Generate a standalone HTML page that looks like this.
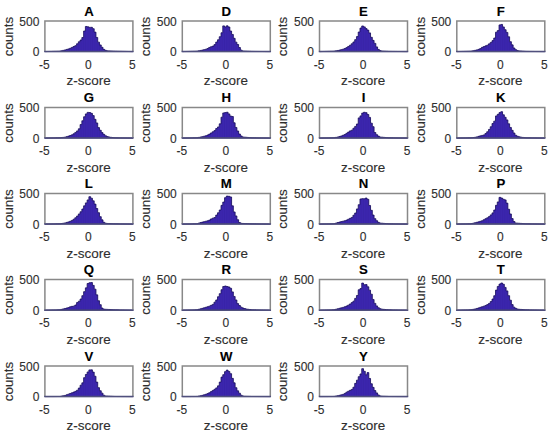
<!DOCTYPE html><html><head><meta charset="utf-8"><style>html,body{margin:0;padding:0;background:#fff;width:550px;height:438px;overflow:hidden}svg{display:block}text{font-family:"Liberation Sans",sans-serif;fill:#2e2e2e;stroke:#2e2e2e;stroke-width:0.12px}</style></head><body>
<svg width="550" height="438" viewBox="0 0 550 438">
<path d="M44.90 51.60 L44.90 51.58 L46.66 51.58 L46.66 51.53 L48.42 51.53 L48.42 51.48 L50.18 51.48 L50.18 51.44 L51.94 51.44 L51.94 51.39 L53.70 51.39 L53.70 51.34 L55.46 51.34 L55.46 51.30 L57.22 51.30 L57.22 51.25 L58.98 51.25 L58.98 51.20 L60.74 51.20 L60.74 50.81 L62.50 50.81 L62.50 50.39 L64.26 50.39 L64.26 49.96 L66.02 49.96 L66.02 49.43 L67.78 49.43 L67.78 48.90 L69.54 48.90 L69.54 48.29 L71.30 48.29 L71.30 47.41 L73.06 47.41 L73.06 46.53 L74.82 46.53 L74.82 45.65 L76.58 45.65 L76.58 43.75 L78.34 43.75 L78.34 41.78 L80.10 41.78 L80.10 40.02 L81.86 40.02 L81.86 37.52 L83.62 37.52 L83.62 31.00 L85.38 31.00 L85.38 26.48 L87.14 26.48 L87.14 26.86 L88.90 26.86 L88.90 27.38 L90.66 27.38 L90.66 27.31 L92.42 27.31 L92.42 28.70 L94.18 28.70 L94.18 32.12 L95.94 32.12 L95.94 37.46 L97.70 37.46 L97.70 42.13 L99.46 42.13 L99.46 44.95 L101.22 44.95 L101.22 47.30 L102.98 47.30 L102.98 49.36 L104.74 49.36 L104.74 50.36 L106.50 50.36 L106.50 50.82 L108.26 50.82 L108.26 50.91 L110.02 50.91 L110.02 50.99 L111.78 50.99 L111.78 51.08 L113.54 51.08 L113.54 51.17 L115.30 51.17 L115.30 51.23 L117.06 51.23 L117.06 51.27 L118.82 51.27 L118.82 51.31 L120.58 51.31 L120.58 51.34 L122.34 51.34 L122.34 51.38 L124.10 51.38 L124.10 51.42 L125.86 51.42 L125.86 51.46 L127.62 51.46 L127.62 51.50 L129.38 51.50 L129.38 51.54 L131.14 51.54 L131.14 51.58 L132.90 51.58 L132.90 51.60 Z" fill="#3d27b0" stroke="#160c5c" stroke-width="0.8"/>
<path d="M48.42 51.60V51.53M50.18 51.60V51.48M51.94 51.60V51.44M53.70 51.60V51.39M55.46 51.60V51.34M57.22 51.60V51.30M58.98 51.60V51.25M60.74 51.60V51.20M62.50 51.60V50.81M64.26 51.60V50.39M66.02 51.60V49.96M67.78 51.60V49.43M69.54 51.60V48.90M71.30 51.60V48.29M73.06 51.60V47.41M74.82 51.60V46.53M76.58 51.60V45.65M78.34 51.60V43.75M80.10 51.60V41.78M81.86 51.60V40.02M83.62 51.60V37.52M85.38 51.60V31.00M87.14 51.60V26.48M88.90 51.60V26.86M90.66 51.60V27.38M92.42 51.60V27.31M94.18 51.60V28.70M95.94 51.60V32.12M97.70 51.60V37.46M99.46 51.60V42.13M101.22 51.60V44.95M102.98 51.60V47.30M104.74 51.60V49.36M106.50 51.60V50.36M108.26 51.60V50.82M110.02 51.60V50.91M111.78 51.60V50.99M113.54 51.60V51.08M115.30 51.60V51.17M117.06 51.60V51.23M118.82 51.60V51.27M120.58 51.60V51.31M122.34 51.60V51.34M124.10 51.60V51.38M125.86 51.60V51.42M127.62 51.60V51.46M129.38 51.60V51.50M131.14 51.60V51.54" fill="none" stroke="#160c5c" stroke-width="0.3" stroke-opacity="0.3"/>
<path d="M44.90 51.60V21.00H132.90V51.60" fill="none" stroke="#888888" stroke-width="1.5" stroke-linejoin="miter"/>
<path d="M44.15 51.60H133.65" fill="none" stroke="#50507d" stroke-width="1.5"/>
<text x="39.40" y="25.80" font-size="12" text-anchor="end">500</text>
<text x="39.40" y="56.40" font-size="12" text-anchor="end">0</text>
<text x="44.40" y="68.80" font-size="12" text-anchor="middle">-5</text>
<text x="88.40" y="68.80" font-size="12" text-anchor="middle">0</text>
<text x="132.40" y="68.80" font-size="12" text-anchor="middle">5</text>
<text x="88.60" y="85.10" font-size="13.5" text-anchor="middle">z-score</text>
<text x="88.90" y="15.80" font-size="13.2" font-weight="bold" text-anchor="middle" style="fill:#000;stroke:#000">A</text>
<text transform="translate(12.70 36.50) rotate(-90)" font-size="13.4" text-anchor="middle">counts</text>
<path d="M182.30 51.60 L182.30 51.58 L184.06 51.58 L184.06 51.53 L185.82 51.53 L185.82 51.48 L187.58 51.48 L187.58 51.43 L189.34 51.43 L189.34 51.38 L191.10 51.38 L191.10 51.34 L192.86 51.34 L192.86 51.29 L194.62 51.29 L194.62 51.24 L196.38 51.24 L196.38 51.15 L198.14 51.15 L198.14 50.80 L199.90 50.80 L199.90 50.44 L201.66 50.44 L201.66 50.07 L203.42 50.07 L203.42 49.65 L205.18 49.65 L205.18 49.23 L206.94 49.23 L206.94 48.51 L208.70 48.51 L208.70 47.45 L210.46 47.45 L210.46 46.75 L212.22 46.75 L212.22 46.11 L213.98 46.11 L213.98 44.62 L215.74 44.62 L215.74 42.07 L217.50 42.07 L217.50 39.78 L219.26 39.78 L219.26 36.72 L221.02 36.72 L221.02 32.75 L222.78 32.75 L222.78 25.89 L224.54 25.89 L224.54 26.91 L226.30 26.91 L226.30 25.85 L228.06 25.85 L228.06 26.99 L229.82 26.99 L229.82 31.00 L231.58 31.00 L231.58 34.44 L233.34 34.44 L233.34 38.30 L235.10 38.30 L235.10 42.14 L236.86 42.14 L236.86 44.49 L238.62 44.49 L238.62 47.50 L240.38 47.50 L240.38 50.13 L242.14 50.13 L242.14 51.00 L243.90 51.00 L243.90 51.08 L245.66 51.08 L245.66 51.16 L247.42 51.16 L247.42 51.24 L249.18 51.24 L249.18 51.31 L250.94 51.31 L250.94 51.39 L252.70 51.39 L252.70 51.42 L254.46 51.42 L254.46 51.44 L256.22 51.44 L256.22 51.46 L257.98 51.46 L257.98 51.47 L259.74 51.47 L259.74 51.49 L261.50 51.49 L261.50 51.51 L263.26 51.51 L263.26 51.53 L265.02 51.53 L265.02 51.55 L266.78 51.55 L266.78 51.57 L268.54 51.57 L268.54 51.59 L270.30 51.59 L270.30 51.60 Z" fill="#3d27b0" stroke="#160c5c" stroke-width="0.8"/>
<path d="M185.82 51.60V51.53M187.58 51.60V51.48M189.34 51.60V51.43M191.10 51.60V51.38M192.86 51.60V51.34M194.62 51.60V51.29M196.38 51.60V51.24M198.14 51.60V51.15M199.90 51.60V50.80M201.66 51.60V50.44M203.42 51.60V50.07M205.18 51.60V49.65M206.94 51.60V49.23M208.70 51.60V48.51M210.46 51.60V47.45M212.22 51.60V46.75M213.98 51.60V46.11M215.74 51.60V44.62M217.50 51.60V42.07M219.26 51.60V39.78M221.02 51.60V36.72M222.78 51.60V32.75M224.54 51.60V25.89M226.30 51.60V26.91M228.06 51.60V25.85M229.82 51.60V26.99M231.58 51.60V31.00M233.34 51.60V34.44M235.10 51.60V38.30M236.86 51.60V42.14M238.62 51.60V44.49M240.38 51.60V47.50M242.14 51.60V50.13M243.90 51.60V51.00M245.66 51.60V51.08M247.42 51.60V51.16M249.18 51.60V51.24M250.94 51.60V51.31M252.70 51.60V51.39M254.46 51.60V51.42M256.22 51.60V51.44M257.98 51.60V51.46M259.74 51.60V51.47M261.50 51.60V51.49M263.26 51.60V51.51M265.02 51.60V51.53" fill="none" stroke="#160c5c" stroke-width="0.3" stroke-opacity="0.3"/>
<path d="M182.30 51.60V21.00H270.30V51.60" fill="none" stroke="#888888" stroke-width="1.5" stroke-linejoin="miter"/>
<path d="M181.55 51.60H271.05" fill="none" stroke="#50507d" stroke-width="1.5"/>
<text x="176.80" y="25.80" font-size="12" text-anchor="end">500</text>
<text x="176.80" y="56.40" font-size="12" text-anchor="end">0</text>
<text x="181.80" y="68.80" font-size="12" text-anchor="middle">-5</text>
<text x="225.80" y="68.80" font-size="12" text-anchor="middle">0</text>
<text x="269.80" y="68.80" font-size="12" text-anchor="middle">5</text>
<text x="226.00" y="85.10" font-size="13.5" text-anchor="middle">z-score</text>
<text x="226.30" y="15.80" font-size="13.2" font-weight="bold" text-anchor="middle" style="fill:#000;stroke:#000">D</text>
<text transform="translate(150.10 36.50) rotate(-90)" font-size="13.4" text-anchor="middle">counts</text>
<path d="M319.50 51.60 L319.50 51.58 L321.26 51.58 L321.26 51.53 L323.02 51.53 L323.02 51.48 L324.78 51.48 L324.78 51.43 L326.54 51.43 L326.54 51.38 L328.30 51.38 L328.30 51.33 L330.06 51.33 L330.06 51.28 L331.82 51.28 L331.82 51.24 L333.58 51.24 L333.58 51.12 L335.34 51.12 L335.34 50.80 L337.10 50.80 L337.10 50.48 L338.86 50.48 L338.86 50.11 L340.62 50.11 L340.62 49.65 L342.38 49.65 L342.38 49.19 L344.14 49.19 L344.14 48.49 L345.90 48.49 L345.90 47.61 L347.66 47.61 L347.66 46.47 L349.42 46.47 L349.42 45.25 L351.18 45.25 L351.18 43.78 L352.94 43.78 L352.94 41.98 L354.70 41.98 L354.70 39.63 L356.46 39.63 L356.46 36.59 L358.22 36.59 L358.22 32.00 L359.98 32.00 L359.98 28.08 L361.74 28.08 L361.74 25.97 L363.50 25.97 L363.50 26.88 L365.26 26.88 L365.26 28.59 L367.02 28.59 L367.02 30.10 L368.78 30.10 L368.78 32.90 L370.54 32.90 L370.54 37.30 L372.30 37.30 L372.30 40.36 L374.06 40.36 L374.06 43.38 L375.82 43.38 L375.82 46.90 L377.58 46.90 L377.58 49.46 L379.34 49.46 L379.34 50.61 L381.10 50.61 L381.10 51.05 L382.86 51.05 L382.86 51.14 L384.62 51.14 L384.62 51.23 L386.38 51.23 L386.38 51.31 L388.14 51.31 L388.14 51.40 L389.90 51.40 L389.90 51.42 L391.66 51.42 L391.66 51.44 L393.42 51.44 L393.42 51.46 L395.18 51.46 L395.18 51.48 L396.94 51.48 L396.94 51.50 L398.70 51.50 L398.70 51.51 L400.46 51.51 L400.46 51.53 L402.22 51.53 L402.22 51.55 L403.98 51.55 L403.98 51.57 L405.74 51.57 L405.74 51.59 L407.50 51.59 L407.50 51.60 Z" fill="#3d27b0" stroke="#160c5c" stroke-width="0.8"/>
<path d="M323.02 51.60V51.53M324.78 51.60V51.48M326.54 51.60V51.43M328.30 51.60V51.38M330.06 51.60V51.33M331.82 51.60V51.28M333.58 51.60V51.24M335.34 51.60V51.12M337.10 51.60V50.80M338.86 51.60V50.48M340.62 51.60V50.11M342.38 51.60V49.65M344.14 51.60V49.19M345.90 51.60V48.49M347.66 51.60V47.61M349.42 51.60V46.47M351.18 51.60V45.25M352.94 51.60V43.78M354.70 51.60V41.98M356.46 51.60V39.63M358.22 51.60V36.59M359.98 51.60V32.00M361.74 51.60V28.08M363.50 51.60V25.97M365.26 51.60V26.88M367.02 51.60V28.59M368.78 51.60V30.10M370.54 51.60V32.90M372.30 51.60V37.30M374.06 51.60V40.36M375.82 51.60V43.38M377.58 51.60V46.90M379.34 51.60V49.46M381.10 51.60V50.61M382.86 51.60V51.05M384.62 51.60V51.14M386.38 51.60V51.23M388.14 51.60V51.31M389.90 51.60V51.40M391.66 51.60V51.42M393.42 51.60V51.44M395.18 51.60V51.46M396.94 51.60V51.48M398.70 51.60V51.50M400.46 51.60V51.51M402.22 51.60V51.53" fill="none" stroke="#160c5c" stroke-width="0.3" stroke-opacity="0.3"/>
<path d="M319.50 51.60V21.00H407.50V51.60" fill="none" stroke="#888888" stroke-width="1.5" stroke-linejoin="miter"/>
<path d="M318.75 51.60H408.25" fill="none" stroke="#50507d" stroke-width="1.5"/>
<text x="314.00" y="25.80" font-size="12" text-anchor="end">500</text>
<text x="314.00" y="56.40" font-size="12" text-anchor="end">0</text>
<text x="319.00" y="68.80" font-size="12" text-anchor="middle">-5</text>
<text x="363.00" y="68.80" font-size="12" text-anchor="middle">0</text>
<text x="407.00" y="68.80" font-size="12" text-anchor="middle">5</text>
<text x="363.20" y="85.10" font-size="13.5" text-anchor="middle">z-score</text>
<text x="363.50" y="15.80" font-size="13.2" font-weight="bold" text-anchor="middle" style="fill:#000;stroke:#000">E</text>
<text transform="translate(287.30 36.50) rotate(-90)" font-size="13.4" text-anchor="middle">counts</text>
<path d="M456.80 51.60 L456.80 51.58 L458.56 51.58 L458.56 51.53 L460.32 51.53 L460.32 51.48 L462.08 51.48 L462.08 51.43 L463.84 51.43 L463.84 51.38 L465.60 51.38 L465.60 51.33 L467.36 51.33 L467.36 51.28 L469.12 51.28 L469.12 51.23 L470.88 51.23 L470.88 51.05 L472.64 51.05 L472.64 50.70 L474.40 50.70 L474.40 50.34 L476.16 50.34 L476.16 49.89 L477.92 49.89 L477.92 49.36 L479.68 49.36 L479.68 48.58 L481.44 48.58 L481.44 47.36 L483.20 47.36 L483.20 46.60 L484.96 46.60 L484.96 45.86 L486.72 45.86 L486.72 45.16 L488.48 45.16 L488.48 43.87 L490.24 43.87 L490.24 42.38 L492.00 42.38 L492.00 40.62 L493.76 40.62 L493.76 38.04 L495.52 38.04 L495.52 32.20 L497.28 32.20 L497.28 30.61 L499.04 30.61 L499.04 24.92 L500.80 24.92 L500.80 24.45 L502.56 24.45 L502.56 26.94 L504.32 26.94 L504.32 29.70 L506.08 29.70 L506.08 32.42 L507.84 32.42 L507.84 36.80 L509.60 36.80 L509.60 41.70 L511.36 41.70 L511.36 44.86 L513.12 44.86 L513.12 48.00 L514.88 48.00 L514.88 49.64 L516.64 49.64 L516.64 50.55 L518.40 50.55 L518.40 50.90 L520.16 50.90 L520.16 51.03 L521.92 51.03 L521.92 51.16 L523.68 51.16 L523.68 51.29 L525.44 51.29 L525.44 51.40 L527.20 51.40 L527.20 51.42 L528.96 51.42 L528.96 51.44 L530.72 51.44 L530.72 51.46 L532.48 51.46 L532.48 51.48 L534.24 51.48 L534.24 51.50 L536.00 51.50 L536.00 51.52 L537.76 51.52 L537.76 51.53 L539.52 51.53 L539.52 51.55 L541.28 51.55 L541.28 51.57 L543.04 51.57 L543.04 51.59 L544.80 51.59 L544.80 51.60 Z" fill="#3d27b0" stroke="#160c5c" stroke-width="0.8"/>
<path d="M460.32 51.60V51.53M462.08 51.60V51.48M463.84 51.60V51.43M465.60 51.60V51.38M467.36 51.60V51.33M469.12 51.60V51.28M470.88 51.60V51.23M472.64 51.60V51.05M474.40 51.60V50.70M476.16 51.60V50.34M477.92 51.60V49.89M479.68 51.60V49.36M481.44 51.60V48.58M483.20 51.60V47.36M484.96 51.60V46.60M486.72 51.60V45.86M488.48 51.60V45.16M490.24 51.60V43.87M492.00 51.60V42.38M493.76 51.60V40.62M495.52 51.60V38.04M497.28 51.60V32.20M499.04 51.60V30.61M500.80 51.60V24.92M502.56 51.60V24.45M504.32 51.60V26.94M506.08 51.60V29.70M507.84 51.60V32.42M509.60 51.60V36.80M511.36 51.60V41.70M513.12 51.60V44.86M514.88 51.60V48.00M516.64 51.60V49.64M518.40 51.60V50.55M520.16 51.60V50.90M521.92 51.60V51.03M523.68 51.60V51.16M525.44 51.60V51.29M527.20 51.60V51.40M528.96 51.60V51.42M530.72 51.60V51.44M532.48 51.60V51.46M534.24 51.60V51.48M536.00 51.60V51.50M537.76 51.60V51.52M539.52 51.60V51.53" fill="none" stroke="#160c5c" stroke-width="0.3" stroke-opacity="0.3"/>
<path d="M456.80 51.60V21.00H544.80V51.60" fill="none" stroke="#888888" stroke-width="1.5" stroke-linejoin="miter"/>
<path d="M456.05 51.60H545.55" fill="none" stroke="#50507d" stroke-width="1.5"/>
<text x="451.30" y="25.80" font-size="12" text-anchor="end">500</text>
<text x="451.30" y="56.40" font-size="12" text-anchor="end">0</text>
<text x="456.30" y="68.80" font-size="12" text-anchor="middle">-5</text>
<text x="500.30" y="68.80" font-size="12" text-anchor="middle">0</text>
<text x="544.30" y="68.80" font-size="12" text-anchor="middle">5</text>
<text x="500.50" y="85.10" font-size="13.5" text-anchor="middle">z-score</text>
<text x="500.80" y="15.80" font-size="13.2" font-weight="bold" text-anchor="middle" style="fill:#000;stroke:#000">F</text>
<text transform="translate(424.60 36.50) rotate(-90)" font-size="13.4" text-anchor="middle">counts</text>
<path d="M44.90 138.10 L44.90 138.08 L46.66 138.08 L46.66 138.05 L48.42 138.05 L48.42 138.01 L50.18 138.01 L50.18 137.98 L51.94 137.98 L51.94 137.94 L53.70 137.94 L53.70 137.91 L55.46 137.91 L55.46 137.87 L57.22 137.87 L57.22 137.84 L58.98 137.84 L58.98 137.80 L60.74 137.80 L60.74 137.61 L62.50 137.61 L62.50 137.39 L64.26 137.39 L64.26 137.16 L66.02 137.16 L66.02 136.63 L67.78 136.63 L67.78 136.10 L69.54 136.10 L69.54 135.53 L71.30 135.53 L71.30 134.83 L73.06 134.83 L73.06 133.78 L74.82 133.78 L74.82 132.43 L76.58 132.43 L76.58 130.92 L78.34 130.92 L78.34 128.80 L80.10 128.80 L80.10 124.56 L81.86 124.56 L81.86 120.77 L83.62 120.77 L83.62 116.75 L85.38 116.75 L85.38 113.93 L87.14 113.93 L87.14 112.40 L88.90 112.40 L88.90 112.51 L90.66 112.51 L90.66 113.36 L92.42 113.36 L92.42 115.60 L94.18 115.60 L94.18 119.34 L95.94 119.34 L95.94 122.96 L97.70 122.96 L97.70 127.62 L99.46 127.62 L99.46 130.26 L101.22 130.26 L101.22 132.60 L102.98 132.60 L102.98 134.36 L104.74 134.36 L104.74 135.81 L106.50 135.81 L106.50 136.59 L108.26 136.59 L108.26 137.00 L110.02 137.00 L110.02 137.31 L111.78 137.31 L111.78 137.52 L113.54 137.52 L113.54 137.73 L115.30 137.73 L115.30 137.82 L117.06 137.82 L117.06 137.85 L118.82 137.85 L118.82 137.88 L120.58 137.88 L120.58 137.91 L122.34 137.91 L122.34 137.94 L124.10 137.94 L124.10 137.97 L125.86 137.97 L125.86 138.00 L127.62 138.00 L127.62 138.03 L129.38 138.03 L129.38 138.06 L131.14 138.06 L131.14 138.09 L132.90 138.09 L132.90 138.10 Z" fill="#3d27b0" stroke="#160c5c" stroke-width="0.8"/>
<path d="M48.42 138.10V138.05M50.18 138.10V138.01M51.94 138.10V137.98M53.70 138.10V137.94M55.46 138.10V137.91M57.22 138.10V137.87M58.98 138.10V137.84M60.74 138.10V137.80M62.50 138.10V137.61M64.26 138.10V137.39M66.02 138.10V137.16M67.78 138.10V136.63M69.54 138.10V136.10M71.30 138.10V135.53M73.06 138.10V134.83M74.82 138.10V133.78M76.58 138.10V132.43M78.34 138.10V130.92M80.10 138.10V128.80M81.86 138.10V124.56M83.62 138.10V120.77M85.38 138.10V116.75M87.14 138.10V113.93M88.90 138.10V112.40M90.66 138.10V112.51M92.42 138.10V113.36M94.18 138.10V115.60M95.94 138.10V119.34M97.70 138.10V122.96M99.46 138.10V127.62M101.22 138.10V130.26M102.98 138.10V132.60M104.74 138.10V134.36M106.50 138.10V135.81M108.26 138.10V136.59M110.02 138.10V137.00M111.78 138.10V137.31M113.54 138.10V137.52M115.30 138.10V137.73M117.06 138.10V137.82M118.82 138.10V137.85M120.58 138.10V137.88M122.34 138.10V137.91M124.10 138.10V137.94M125.86 138.10V137.97M127.62 138.10V138.00M129.38 138.10V138.03" fill="none" stroke="#160c5c" stroke-width="0.3" stroke-opacity="0.3"/>
<path d="M44.90 138.10V107.50H132.90V138.10" fill="none" stroke="#888888" stroke-width="1.5" stroke-linejoin="miter"/>
<path d="M44.15 138.10H133.65" fill="none" stroke="#50507d" stroke-width="1.5"/>
<text x="39.40" y="112.30" font-size="12" text-anchor="end">500</text>
<text x="39.40" y="142.90" font-size="12" text-anchor="end">0</text>
<text x="44.40" y="155.30" font-size="12" text-anchor="middle">-5</text>
<text x="88.40" y="155.30" font-size="12" text-anchor="middle">0</text>
<text x="132.40" y="155.30" font-size="12" text-anchor="middle">5</text>
<text x="88.60" y="171.60" font-size="13.5" text-anchor="middle">z-score</text>
<text x="88.90" y="102.30" font-size="13.2" font-weight="bold" text-anchor="middle" style="fill:#000;stroke:#000">G</text>
<text transform="translate(12.70 123.00) rotate(-90)" font-size="13.4" text-anchor="middle">counts</text>
<path d="M182.30 138.10 L182.30 138.08 L184.06 138.08 L184.06 138.05 L185.82 138.05 L185.82 138.01 L187.58 138.01 L187.58 137.97 L189.34 137.97 L189.34 137.94 L191.10 137.94 L191.10 137.90 L192.86 137.90 L192.86 137.87 L194.62 137.87 L194.62 137.83 L196.38 137.83 L196.38 137.75 L198.14 137.75 L198.14 137.40 L199.90 137.40 L199.90 137.04 L201.66 137.04 L201.66 136.67 L203.42 136.67 L203.42 136.23 L205.18 136.23 L205.18 135.77 L206.94 135.77 L206.94 135.01 L208.70 135.01 L208.70 134.11 L210.46 134.11 L210.46 132.94 L212.22 132.94 L212.22 131.77 L213.98 131.77 L213.98 130.59 L215.74 130.59 L215.74 128.47 L217.50 128.47 L217.50 126.97 L219.26 126.97 L219.26 123.84 L221.02 123.84 L221.02 117.20 L222.78 117.20 L222.78 112.95 L224.54 112.95 L224.54 112.58 L226.30 112.58 L226.30 112.26 L228.06 112.26 L228.06 113.92 L229.82 113.92 L229.82 116.05 L231.58 116.05 L231.58 116.49 L233.34 116.49 L233.34 122.77 L235.10 122.77 L235.10 127.46 L236.86 127.46 L236.86 130.98 L238.62 130.98 L238.62 134.00 L240.38 134.00 L240.38 135.96 L242.14 135.96 L242.14 137.00 L243.90 137.00 L243.90 137.16 L245.66 137.16 L245.66 137.31 L247.42 137.31 L247.42 137.47 L249.18 137.47 L249.18 137.63 L250.94 137.63 L250.94 137.78 L252.70 137.78 L252.70 137.83 L254.46 137.83 L254.46 137.85 L256.22 137.85 L256.22 137.88 L257.98 137.88 L257.98 137.91 L259.74 137.91 L259.74 137.94 L261.50 137.94 L261.50 137.97 L263.26 137.97 L263.26 138.00 L265.02 138.00 L265.02 138.03 L266.78 138.03 L266.78 138.06 L268.54 138.06 L268.54 138.09 L270.30 138.09 L270.30 138.10 Z" fill="#3d27b0" stroke="#160c5c" stroke-width="0.8"/>
<path d="M185.82 138.10V138.05M187.58 138.10V138.01M189.34 138.10V137.97M191.10 138.10V137.94M192.86 138.10V137.90M194.62 138.10V137.87M196.38 138.10V137.83M198.14 138.10V137.75M199.90 138.10V137.40M201.66 138.10V137.04M203.42 138.10V136.67M205.18 138.10V136.23M206.94 138.10V135.77M208.70 138.10V135.01M210.46 138.10V134.11M212.22 138.10V132.94M213.98 138.10V131.77M215.74 138.10V130.59M217.50 138.10V128.47M219.26 138.10V126.97M221.02 138.10V123.84M222.78 138.10V117.20M224.54 138.10V112.95M226.30 138.10V112.58M228.06 138.10V112.26M229.82 138.10V113.92M231.58 138.10V116.05M233.34 138.10V116.49M235.10 138.10V122.77M236.86 138.10V127.46M238.62 138.10V130.98M240.38 138.10V134.00M242.14 138.10V135.96M243.90 138.10V137.00M245.66 138.10V137.16M247.42 138.10V137.31M249.18 138.10V137.47M250.94 138.10V137.63M252.70 138.10V137.78M254.46 138.10V137.83M256.22 138.10V137.85M257.98 138.10V137.88M259.74 138.10V137.91M261.50 138.10V137.94M263.26 138.10V137.97M265.02 138.10V138.00M266.78 138.10V138.03" fill="none" stroke="#160c5c" stroke-width="0.3" stroke-opacity="0.3"/>
<path d="M182.30 138.10V107.50H270.30V138.10" fill="none" stroke="#888888" stroke-width="1.5" stroke-linejoin="miter"/>
<path d="M181.55 138.10H271.05" fill="none" stroke="#50507d" stroke-width="1.5"/>
<text x="176.80" y="112.30" font-size="12" text-anchor="end">500</text>
<text x="176.80" y="142.90" font-size="12" text-anchor="end">0</text>
<text x="181.80" y="155.30" font-size="12" text-anchor="middle">-5</text>
<text x="225.80" y="155.30" font-size="12" text-anchor="middle">0</text>
<text x="269.80" y="155.30" font-size="12" text-anchor="middle">5</text>
<text x="226.00" y="171.60" font-size="13.5" text-anchor="middle">z-score</text>
<text x="226.30" y="102.30" font-size="13.2" font-weight="bold" text-anchor="middle" style="fill:#000;stroke:#000">H</text>
<text transform="translate(150.10 123.00) rotate(-90)" font-size="13.4" text-anchor="middle">counts</text>
<path d="M319.50 138.10 L319.50 138.08 L321.26 138.08 L321.26 138.05 L323.02 138.05 L323.02 138.01 L324.78 138.01 L324.78 137.97 L326.54 137.97 L326.54 137.94 L328.30 137.94 L328.30 137.90 L330.06 137.90 L330.06 137.86 L331.82 137.86 L331.82 137.83 L333.58 137.83 L333.58 137.71 L335.34 137.71 L335.34 137.36 L337.10 137.36 L337.10 137.00 L338.86 137.00 L338.86 136.48 L340.62 136.48 L340.62 135.95 L342.38 135.95 L342.38 135.25 L344.14 135.25 L344.14 134.49 L345.90 134.49 L345.90 133.31 L347.66 133.31 L347.66 132.09 L349.42 132.09 L349.42 130.88 L351.18 130.88 L351.18 130.18 L352.94 130.18 L352.94 128.24 L354.70 128.24 L354.70 126.42 L356.46 126.42 L356.46 123.99 L358.22 123.99 L358.22 117.90 L359.98 117.90 L359.98 115.90 L361.74 115.90 L361.74 113.07 L363.50 113.07 L363.50 112.29 L365.26 112.29 L365.26 112.66 L367.02 112.66 L367.02 114.50 L368.78 114.50 L368.78 117.40 L370.54 117.40 L370.54 123.18 L372.30 123.18 L372.30 126.68 L374.06 126.68 L374.06 132.52 L375.82 132.52 L375.82 134.67 L377.58 134.67 L377.58 136.08 L379.34 136.08 L379.34 137.02 L381.10 137.02 L381.10 137.18 L382.86 137.18 L382.86 137.33 L384.62 137.33 L384.62 137.49 L386.38 137.49 L386.38 137.65 L388.14 137.65 L388.14 137.80 L389.90 137.80 L389.90 137.83 L391.66 137.83 L391.66 137.86 L393.42 137.86 L393.42 137.89 L395.18 137.89 L395.18 137.91 L396.94 137.91 L396.94 137.94 L398.70 137.94 L398.70 137.97 L400.46 137.97 L400.46 138.00 L402.22 138.00 L402.22 138.03 L403.98 138.03 L403.98 138.06 L405.74 138.06 L405.74 138.09 L407.50 138.09 L407.50 138.10 Z" fill="#3d27b0" stroke="#160c5c" stroke-width="0.8"/>
<path d="M323.02 138.10V138.05M324.78 138.10V138.01M326.54 138.10V137.97M328.30 138.10V137.94M330.06 138.10V137.90M331.82 138.10V137.86M333.58 138.10V137.83M335.34 138.10V137.71M337.10 138.10V137.36M338.86 138.10V137.00M340.62 138.10V136.48M342.38 138.10V135.95M344.14 138.10V135.25M345.90 138.10V134.49M347.66 138.10V133.31M349.42 138.10V132.09M351.18 138.10V130.88M352.94 138.10V130.18M354.70 138.10V128.24M356.46 138.10V126.42M358.22 138.10V123.99M359.98 138.10V117.90M361.74 138.10V115.90M363.50 138.10V113.07M365.26 138.10V112.29M367.02 138.10V112.66M368.78 138.10V114.50M370.54 138.10V117.40M372.30 138.10V123.18M374.06 138.10V126.68M375.82 138.10V132.52M377.58 138.10V134.67M379.34 138.10V136.08M381.10 138.10V137.02M382.86 138.10V137.18M384.62 138.10V137.33M386.38 138.10V137.49M388.14 138.10V137.65M389.90 138.10V137.80M391.66 138.10V137.83M393.42 138.10V137.86M395.18 138.10V137.89M396.94 138.10V137.91M398.70 138.10V137.94M400.46 138.10V137.97M402.22 138.10V138.00M403.98 138.10V138.03" fill="none" stroke="#160c5c" stroke-width="0.3" stroke-opacity="0.3"/>
<path d="M319.50 138.10V107.50H407.50V138.10" fill="none" stroke="#888888" stroke-width="1.5" stroke-linejoin="miter"/>
<path d="M318.75 138.10H408.25" fill="none" stroke="#50507d" stroke-width="1.5"/>
<text x="314.00" y="112.30" font-size="12" text-anchor="end">500</text>
<text x="314.00" y="142.90" font-size="12" text-anchor="end">0</text>
<text x="319.00" y="155.30" font-size="12" text-anchor="middle">-5</text>
<text x="363.00" y="155.30" font-size="12" text-anchor="middle">0</text>
<text x="407.00" y="155.30" font-size="12" text-anchor="middle">5</text>
<text x="363.20" y="171.60" font-size="13.5" text-anchor="middle">z-score</text>
<text x="363.50" y="102.30" font-size="13.2" font-weight="bold" text-anchor="middle" style="fill:#000;stroke:#000">I</text>
<text transform="translate(287.30 123.00) rotate(-90)" font-size="13.4" text-anchor="middle">counts</text>
<path d="M456.80 138.10 L456.80 138.08 L458.56 138.08 L458.56 138.04 L460.32 138.04 L460.32 138.01 L462.08 138.01 L462.08 137.97 L463.84 137.97 L463.84 137.93 L465.60 137.93 L465.60 137.90 L467.36 137.90 L467.36 137.86 L469.12 137.86 L469.12 137.82 L470.88 137.82 L470.88 137.71 L472.64 137.71 L472.64 137.50 L474.40 137.50 L474.40 137.29 L476.16 137.29 L476.16 136.89 L477.92 136.89 L477.92 136.36 L479.68 136.36 L479.68 135.86 L481.44 135.86 L481.44 135.42 L483.20 135.42 L483.20 134.93 L484.96 134.93 L484.96 133.47 L486.72 133.47 L486.72 131.75 L488.48 131.75 L488.48 129.46 L490.24 129.46 L490.24 126.76 L492.00 126.76 L492.00 123.49 L493.76 123.49 L493.76 121.15 L495.52 121.15 L495.52 115.95 L497.28 115.95 L497.28 114.34 L499.04 114.34 L499.04 112.58 L500.80 112.58 L500.80 111.70 L502.56 111.70 L502.56 114.79 L504.32 114.79 L504.32 117.27 L506.08 117.27 L506.08 119.92 L507.84 119.92 L507.84 123.80 L509.60 123.80 L509.60 127.46 L511.36 127.46 L511.36 130.32 L513.12 130.32 L513.12 133.00 L514.88 133.00 L514.88 135.26 L516.64 135.26 L516.64 136.26 L518.40 136.26 L518.40 136.80 L520.16 136.80 L520.16 137.20 L521.92 137.20 L521.92 137.42 L523.68 137.42 L523.68 137.63 L525.44 137.63 L525.44 137.81 L527.20 137.81 L527.20 137.83 L528.96 137.83 L528.96 137.86 L530.72 137.86 L530.72 137.89 L532.48 137.89 L532.48 137.92 L534.24 137.92 L534.24 137.95 L536.00 137.95 L536.00 137.97 L537.76 137.97 L537.76 138.00 L539.52 138.00 L539.52 138.03 L541.28 138.03 L541.28 138.06 L543.04 138.06 L543.04 138.09 L544.80 138.09 L544.80 138.10 Z" fill="#3d27b0" stroke="#160c5c" stroke-width="0.8"/>
<path d="M460.32 138.10V138.04M462.08 138.10V138.01M463.84 138.10V137.97M465.60 138.10V137.93M467.36 138.10V137.90M469.12 138.10V137.86M470.88 138.10V137.82M472.64 138.10V137.71M474.40 138.10V137.50M476.16 138.10V137.29M477.92 138.10V136.89M479.68 138.10V136.36M481.44 138.10V135.86M483.20 138.10V135.42M484.96 138.10V134.93M486.72 138.10V133.47M488.48 138.10V131.75M490.24 138.10V129.46M492.00 138.10V126.76M493.76 138.10V123.49M495.52 138.10V121.15M497.28 138.10V115.95M499.04 138.10V114.34M500.80 138.10V112.58M502.56 138.10V111.70M504.32 138.10V114.79M506.08 138.10V117.27M507.84 138.10V119.92M509.60 138.10V123.80M511.36 138.10V127.46M513.12 138.10V130.32M514.88 138.10V133.00M516.64 138.10V135.26M518.40 138.10V136.26M520.16 138.10V136.80M521.92 138.10V137.20M523.68 138.10V137.42M525.44 138.10V137.63M527.20 138.10V137.81M528.96 138.10V137.83M530.72 138.10V137.86M532.48 138.10V137.89M534.24 138.10V137.92M536.00 138.10V137.95M537.76 138.10V137.97M539.52 138.10V138.00M541.28 138.10V138.03" fill="none" stroke="#160c5c" stroke-width="0.3" stroke-opacity="0.3"/>
<path d="M456.80 138.10V107.50H544.80V138.10" fill="none" stroke="#888888" stroke-width="1.5" stroke-linejoin="miter"/>
<path d="M456.05 138.10H545.55" fill="none" stroke="#50507d" stroke-width="1.5"/>
<text x="451.30" y="112.30" font-size="12" text-anchor="end">500</text>
<text x="451.30" y="142.90" font-size="12" text-anchor="end">0</text>
<text x="456.30" y="155.30" font-size="12" text-anchor="middle">-5</text>
<text x="500.30" y="155.30" font-size="12" text-anchor="middle">0</text>
<text x="544.30" y="155.30" font-size="12" text-anchor="middle">5</text>
<text x="500.50" y="171.60" font-size="13.5" text-anchor="middle">z-score</text>
<text x="500.80" y="102.30" font-size="13.2" font-weight="bold" text-anchor="middle" style="fill:#000;stroke:#000">K</text>
<text transform="translate(424.60 123.00) rotate(-90)" font-size="13.4" text-anchor="middle">counts</text>
<path d="M44.90 224.10 L44.90 224.08 L46.66 224.08 L46.66 224.05 L48.42 224.05 L48.42 224.01 L50.18 224.01 L50.18 223.98 L51.94 223.98 L51.94 223.94 L53.70 223.94 L53.70 223.91 L55.46 223.91 L55.46 223.87 L57.22 223.87 L57.22 223.84 L58.98 223.84 L58.98 223.80 L60.74 223.80 L60.74 223.54 L62.50 223.54 L62.50 223.26 L64.26 223.26 L64.26 222.96 L66.02 222.96 L66.02 222.43 L67.78 222.43 L67.78 221.90 L69.54 221.90 L69.54 221.29 L71.30 221.29 L71.30 220.41 L73.06 220.41 L73.06 219.22 L74.82 219.22 L74.82 217.75 L76.58 217.75 L76.58 216.04 L78.34 216.04 L78.34 213.97 L80.10 213.97 L80.10 211.78 L81.86 211.78 L81.86 209.02 L83.62 209.02 L83.62 205.83 L85.38 205.83 L85.38 202.90 L87.14 202.90 L87.14 199.95 L88.90 199.95 L88.90 196.69 L90.66 196.69 L90.66 198.22 L92.42 198.22 L92.42 200.83 L94.18 200.83 L94.18 204.12 L95.94 204.12 L95.94 208.52 L97.70 208.52 L97.70 212.70 L99.46 212.70 L99.46 216.68 L101.22 216.68 L101.22 219.83 L102.98 219.83 L102.98 222.31 L104.74 222.31 L104.74 223.23 L106.50 223.23 L106.50 223.46 L108.26 223.46 L108.26 223.54 L110.02 223.54 L110.02 223.62 L111.78 223.62 L111.78 223.70 L113.54 223.70 L113.54 223.77 L115.30 223.77 L115.30 223.82 L117.06 223.82 L117.06 223.85 L118.82 223.85 L118.82 223.88 L120.58 223.88 L120.58 223.91 L122.34 223.91 L122.34 223.94 L124.10 223.94 L124.10 223.97 L125.86 223.97 L125.86 224.00 L127.62 224.00 L127.62 224.03 L129.38 224.03 L129.38 224.06 L131.14 224.06 L131.14 224.09 L132.90 224.09 L132.90 224.10 Z" fill="#3d27b0" stroke="#160c5c" stroke-width="0.8"/>
<path d="M48.42 224.10V224.05M50.18 224.10V224.01M51.94 224.10V223.98M53.70 224.10V223.94M55.46 224.10V223.91M57.22 224.10V223.87M58.98 224.10V223.84M60.74 224.10V223.80M62.50 224.10V223.54M64.26 224.10V223.26M66.02 224.10V222.96M67.78 224.10V222.43M69.54 224.10V221.90M71.30 224.10V221.29M73.06 224.10V220.41M74.82 224.10V219.22M76.58 224.10V217.75M78.34 224.10V216.04M80.10 224.10V213.97M81.86 224.10V211.78M83.62 224.10V209.02M85.38 224.10V205.83M87.14 224.10V202.90M88.90 224.10V199.95M90.66 224.10V196.69M92.42 224.10V198.22M94.18 224.10V200.83M95.94 224.10V204.12M97.70 224.10V208.52M99.46 224.10V212.70M101.22 224.10V216.68M102.98 224.10V219.83M104.74 224.10V222.31M106.50 224.10V223.23M108.26 224.10V223.46M110.02 224.10V223.54M111.78 224.10V223.62M113.54 224.10V223.70M115.30 224.10V223.77M117.06 224.10V223.82M118.82 224.10V223.85M120.58 224.10V223.88M122.34 224.10V223.91M124.10 224.10V223.94M125.86 224.10V223.97M127.62 224.10V224.00M129.38 224.10V224.03" fill="none" stroke="#160c5c" stroke-width="0.3" stroke-opacity="0.3"/>
<path d="M44.90 224.10V193.50H132.90V224.10" fill="none" stroke="#888888" stroke-width="1.5" stroke-linejoin="miter"/>
<path d="M44.15 224.10H133.65" fill="none" stroke="#50507d" stroke-width="1.5"/>
<text x="39.40" y="198.30" font-size="12" text-anchor="end">500</text>
<text x="39.40" y="228.90" font-size="12" text-anchor="end">0</text>
<text x="44.40" y="241.30" font-size="12" text-anchor="middle">-5</text>
<text x="88.40" y="241.30" font-size="12" text-anchor="middle">0</text>
<text x="132.40" y="241.30" font-size="12" text-anchor="middle">5</text>
<text x="88.60" y="257.60" font-size="13.5" text-anchor="middle">z-score</text>
<text x="88.90" y="188.30" font-size="13.2" font-weight="bold" text-anchor="middle" style="fill:#000;stroke:#000">L</text>
<text transform="translate(12.70 209.00) rotate(-90)" font-size="13.4" text-anchor="middle">counts</text>
<path d="M182.30 224.10 L182.30 224.08 L184.06 224.08 L184.06 224.05 L185.82 224.05 L185.82 224.01 L187.58 224.01 L187.58 223.97 L189.34 223.97 L189.34 223.94 L191.10 223.94 L191.10 223.90 L192.86 223.90 L192.86 223.87 L194.62 223.87 L194.62 223.83 L196.38 223.83 L196.38 223.72 L198.14 223.72 L198.14 223.14 L199.90 223.14 L199.90 222.57 L201.66 222.57 L201.66 222.12 L203.42 222.12 L203.42 221.68 L205.18 221.68 L205.18 221.24 L206.94 221.24 L206.94 220.80 L208.70 220.80 L208.70 220.11 L210.46 220.11 L210.46 218.94 L212.22 218.94 L212.22 218.13 L213.98 218.13 L213.98 217.55 L215.74 217.55 L215.74 215.07 L217.50 215.07 L217.50 212.78 L219.26 212.78 L219.26 210.00 L221.02 210.00 L221.02 205.35 L222.78 205.35 L222.78 202.07 L224.54 202.07 L224.54 197.66 L226.30 197.66 L226.30 196.11 L228.06 196.11 L228.06 196.29 L229.82 196.29 L229.82 196.97 L231.58 196.97 L231.58 205.84 L233.34 205.84 L233.34 211.94 L235.10 211.94 L235.10 215.95 L236.86 215.95 L236.86 219.72 L238.62 219.72 L238.62 222.50 L240.38 222.50 L240.38 223.29 L242.14 223.29 L242.14 223.46 L243.90 223.46 L243.90 223.52 L245.66 223.52 L245.66 223.59 L247.42 223.59 L247.42 223.66 L249.18 223.66 L249.18 223.73 L250.94 223.73 L250.94 223.79 L252.70 223.79 L252.70 223.83 L254.46 223.83 L254.46 223.85 L256.22 223.85 L256.22 223.88 L257.98 223.88 L257.98 223.91 L259.74 223.91 L259.74 223.94 L261.50 223.94 L261.50 223.97 L263.26 223.97 L263.26 224.00 L265.02 224.00 L265.02 224.03 L266.78 224.03 L266.78 224.06 L268.54 224.06 L268.54 224.09 L270.30 224.09 L270.30 224.10 Z" fill="#3d27b0" stroke="#160c5c" stroke-width="0.8"/>
<path d="M185.82 224.10V224.05M187.58 224.10V224.01M189.34 224.10V223.97M191.10 224.10V223.94M192.86 224.10V223.90M194.62 224.10V223.87M196.38 224.10V223.83M198.14 224.10V223.72M199.90 224.10V223.14M201.66 224.10V222.57M203.42 224.10V222.12M205.18 224.10V221.68M206.94 224.10V221.24M208.70 224.10V220.80M210.46 224.10V220.11M212.22 224.10V218.94M213.98 224.10V218.13M215.74 224.10V217.55M217.50 224.10V215.07M219.26 224.10V212.78M221.02 224.10V210.00M222.78 224.10V205.35M224.54 224.10V202.07M226.30 224.10V197.66M228.06 224.10V196.11M229.82 224.10V196.29M231.58 224.10V196.97M233.34 224.10V205.84M235.10 224.10V211.94M236.86 224.10V215.95M238.62 224.10V219.72M240.38 224.10V222.50M242.14 224.10V223.29M243.90 224.10V223.46M245.66 224.10V223.52M247.42 224.10V223.59M249.18 224.10V223.66M250.94 224.10V223.73M252.70 224.10V223.79M254.46 224.10V223.83M256.22 224.10V223.85M257.98 224.10V223.88M259.74 224.10V223.91M261.50 224.10V223.94M263.26 224.10V223.97M265.02 224.10V224.00M266.78 224.10V224.03" fill="none" stroke="#160c5c" stroke-width="0.3" stroke-opacity="0.3"/>
<path d="M182.30 224.10V193.50H270.30V224.10" fill="none" stroke="#888888" stroke-width="1.5" stroke-linejoin="miter"/>
<path d="M181.55 224.10H271.05" fill="none" stroke="#50507d" stroke-width="1.5"/>
<text x="176.80" y="198.30" font-size="12" text-anchor="end">500</text>
<text x="176.80" y="228.90" font-size="12" text-anchor="end">0</text>
<text x="181.80" y="241.30" font-size="12" text-anchor="middle">-5</text>
<text x="225.80" y="241.30" font-size="12" text-anchor="middle">0</text>
<text x="269.80" y="241.30" font-size="12" text-anchor="middle">5</text>
<text x="226.00" y="257.60" font-size="13.5" text-anchor="middle">z-score</text>
<text x="226.30" y="188.30" font-size="13.2" font-weight="bold" text-anchor="middle" style="fill:#000;stroke:#000">M</text>
<text transform="translate(150.10 209.00) rotate(-90)" font-size="13.4" text-anchor="middle">counts</text>
<path d="M319.50 224.10 L319.50 224.08 L321.26 224.08 L321.26 224.05 L323.02 224.05 L323.02 224.01 L324.78 224.01 L324.78 223.97 L326.54 223.97 L326.54 223.94 L328.30 223.94 L328.30 223.90 L330.06 223.90 L330.06 223.86 L331.82 223.86 L331.82 223.83 L333.58 223.83 L333.58 223.65 L335.34 223.65 L335.34 223.08 L337.10 223.08 L337.10 222.51 L338.86 222.51 L338.86 222.06 L340.62 222.06 L340.62 221.62 L342.38 221.62 L342.38 221.19 L344.14 221.19 L344.14 220.75 L345.90 220.75 L345.90 220.11 L347.66 220.11 L347.66 219.23 L349.42 219.23 L349.42 218.35 L351.18 218.35 L351.18 217.43 L352.94 217.43 L352.94 215.23 L354.70 215.23 L354.70 213.03 L356.46 213.03 L356.46 208.93 L358.22 208.93 L358.22 204.70 L359.98 204.70 L359.98 198.97 L361.74 198.97 L361.74 198.66 L363.50 198.66 L363.50 198.81 L365.26 198.81 L365.26 198.05 L367.02 198.05 L367.02 199.30 L368.78 199.30 L368.78 205.48 L370.54 205.48 L370.54 210.30 L372.30 210.30 L372.30 215.04 L374.06 215.04 L374.06 218.66 L375.82 218.66 L375.82 220.70 L377.58 220.70 L377.58 222.31 L379.34 222.31 L379.34 223.06 L381.10 223.06 L381.10 223.21 L382.86 223.21 L382.86 223.36 L384.62 223.36 L384.62 223.51 L386.38 223.51 L386.38 223.65 L388.14 223.65 L388.14 223.80 L389.90 223.80 L389.90 223.83 L391.66 223.83 L391.66 223.86 L393.42 223.86 L393.42 223.89 L395.18 223.89 L395.18 223.91 L396.94 223.91 L396.94 223.94 L398.70 223.94 L398.70 223.97 L400.46 223.97 L400.46 224.00 L402.22 224.00 L402.22 224.03 L403.98 224.03 L403.98 224.06 L405.74 224.06 L405.74 224.09 L407.50 224.09 L407.50 224.10 Z" fill="#3d27b0" stroke="#160c5c" stroke-width="0.8"/>
<path d="M323.02 224.10V224.05M324.78 224.10V224.01M326.54 224.10V223.97M328.30 224.10V223.94M330.06 224.10V223.90M331.82 224.10V223.86M333.58 224.10V223.83M335.34 224.10V223.65M337.10 224.10V223.08M338.86 224.10V222.51M340.62 224.10V222.06M342.38 224.10V221.62M344.14 224.10V221.19M345.90 224.10V220.75M347.66 224.10V220.11M349.42 224.10V219.23M351.18 224.10V218.35M352.94 224.10V217.43M354.70 224.10V215.23M356.46 224.10V213.03M358.22 224.10V208.93M359.98 224.10V204.70M361.74 224.10V198.97M363.50 224.10V198.66M365.26 224.10V198.81M367.02 224.10V198.05M368.78 224.10V199.30M370.54 224.10V205.48M372.30 224.10V210.30M374.06 224.10V215.04M375.82 224.10V218.66M377.58 224.10V220.70M379.34 224.10V222.31M381.10 224.10V223.06M382.86 224.10V223.21M384.62 224.10V223.36M386.38 224.10V223.51M388.14 224.10V223.65M389.90 224.10V223.80M391.66 224.10V223.83M393.42 224.10V223.86M395.18 224.10V223.89M396.94 224.10V223.91M398.70 224.10V223.94M400.46 224.10V223.97M402.22 224.10V224.00M403.98 224.10V224.03" fill="none" stroke="#160c5c" stroke-width="0.3" stroke-opacity="0.3"/>
<path d="M319.50 224.10V193.50H407.50V224.10" fill="none" stroke="#888888" stroke-width="1.5" stroke-linejoin="miter"/>
<path d="M318.75 224.10H408.25" fill="none" stroke="#50507d" stroke-width="1.5"/>
<text x="314.00" y="198.30" font-size="12" text-anchor="end">500</text>
<text x="314.00" y="228.90" font-size="12" text-anchor="end">0</text>
<text x="319.00" y="241.30" font-size="12" text-anchor="middle">-5</text>
<text x="363.00" y="241.30" font-size="12" text-anchor="middle">0</text>
<text x="407.00" y="241.30" font-size="12" text-anchor="middle">5</text>
<text x="363.20" y="257.60" font-size="13.5" text-anchor="middle">z-score</text>
<text x="363.50" y="188.30" font-size="13.2" font-weight="bold" text-anchor="middle" style="fill:#000;stroke:#000">N</text>
<text transform="translate(287.30 209.00) rotate(-90)" font-size="13.4" text-anchor="middle">counts</text>
<path d="M456.80 224.10 L456.80 224.08 L458.56 224.08 L458.56 224.04 L460.32 224.04 L460.32 224.01 L462.08 224.01 L462.08 223.97 L463.84 223.97 L463.84 223.93 L465.60 223.93 L465.60 223.90 L467.36 223.90 L467.36 223.86 L469.12 223.86 L469.12 223.82 L470.88 223.82 L470.88 223.61 L472.64 223.61 L472.64 223.17 L474.40 223.17 L474.40 222.73 L476.16 222.73 L476.16 222.29 L477.92 222.29 L477.92 221.85 L479.68 221.85 L479.68 221.29 L481.44 221.29 L481.44 220.72 L483.20 220.72 L483.20 219.69 L484.96 219.69 L484.96 218.66 L486.72 218.66 L486.72 217.79 L488.48 217.79 L488.48 216.60 L490.24 216.60 L490.24 214.88 L492.00 214.88 L492.00 212.90 L493.76 212.90 L493.76 210.01 L495.52 210.01 L495.52 205.30 L497.28 205.30 L497.28 201.95 L499.04 201.95 L499.04 197.37 L500.80 197.37 L500.80 198.07 L502.56 198.07 L502.56 199.22 L504.32 199.22 L504.32 199.90 L506.08 199.90 L506.08 203.11 L507.84 203.11 L507.84 209.27 L509.60 209.27 L509.60 213.96 L511.36 213.96 L511.36 218.59 L513.12 218.59 L513.12 221.50 L514.88 221.50 L514.88 223.02 L516.64 223.02 L516.64 223.15 L518.40 223.15 L518.40 223.29 L520.16 223.29 L520.16 223.42 L521.92 223.42 L521.92 223.56 L523.68 223.56 L523.68 223.69 L525.44 223.69 L525.44 223.81 L527.20 223.81 L527.20 223.83 L528.96 223.83 L528.96 223.86 L530.72 223.86 L530.72 223.89 L532.48 223.89 L532.48 223.92 L534.24 223.92 L534.24 223.95 L536.00 223.95 L536.00 223.97 L537.76 223.97 L537.76 224.00 L539.52 224.00 L539.52 224.03 L541.28 224.03 L541.28 224.06 L543.04 224.06 L543.04 224.09 L544.80 224.09 L544.80 224.10 Z" fill="#3d27b0" stroke="#160c5c" stroke-width="0.8"/>
<path d="M460.32 224.10V224.04M462.08 224.10V224.01M463.84 224.10V223.97M465.60 224.10V223.93M467.36 224.10V223.90M469.12 224.10V223.86M470.88 224.10V223.82M472.64 224.10V223.61M474.40 224.10V223.17M476.16 224.10V222.73M477.92 224.10V222.29M479.68 224.10V221.85M481.44 224.10V221.29M483.20 224.10V220.72M484.96 224.10V219.69M486.72 224.10V218.66M488.48 224.10V217.79M490.24 224.10V216.60M492.00 224.10V214.88M493.76 224.10V212.90M495.52 224.10V210.01M497.28 224.10V205.30M499.04 224.10V201.95M500.80 224.10V197.37M502.56 224.10V198.07M504.32 224.10V199.22M506.08 224.10V199.90M507.84 224.10V203.11M509.60 224.10V209.27M511.36 224.10V213.96M513.12 224.10V218.59M514.88 224.10V221.50M516.64 224.10V223.02M518.40 224.10V223.15M520.16 224.10V223.29M521.92 224.10V223.42M523.68 224.10V223.56M525.44 224.10V223.69M527.20 224.10V223.81M528.96 224.10V223.83M530.72 224.10V223.86M532.48 224.10V223.89M534.24 224.10V223.92M536.00 224.10V223.95M537.76 224.10V223.97M539.52 224.10V224.00M541.28 224.10V224.03" fill="none" stroke="#160c5c" stroke-width="0.3" stroke-opacity="0.3"/>
<path d="M456.80 224.10V193.50H544.80V224.10" fill="none" stroke="#888888" stroke-width="1.5" stroke-linejoin="miter"/>
<path d="M456.05 224.10H545.55" fill="none" stroke="#50507d" stroke-width="1.5"/>
<text x="451.30" y="198.30" font-size="12" text-anchor="end">500</text>
<text x="451.30" y="228.90" font-size="12" text-anchor="end">0</text>
<text x="456.30" y="241.30" font-size="12" text-anchor="middle">-5</text>
<text x="500.30" y="241.30" font-size="12" text-anchor="middle">0</text>
<text x="544.30" y="241.30" font-size="12" text-anchor="middle">5</text>
<text x="500.50" y="257.60" font-size="13.5" text-anchor="middle">z-score</text>
<text x="500.80" y="188.30" font-size="13.2" font-weight="bold" text-anchor="middle" style="fill:#000;stroke:#000">P</text>
<text transform="translate(424.60 209.00) rotate(-90)" font-size="13.4" text-anchor="middle">counts</text>
<path d="M44.90 310.20 L44.90 310.18 L46.66 310.18 L46.66 310.13 L48.42 310.13 L48.42 310.08 L50.18 310.08 L50.18 310.04 L51.94 310.04 L51.94 309.99 L53.70 309.99 L53.70 309.94 L55.46 309.94 L55.46 309.90 L57.22 309.90 L57.22 309.85 L58.98 309.85 L58.98 309.80 L60.74 309.80 L60.74 309.38 L62.50 309.38 L62.50 308.92 L64.26 308.92 L64.26 308.46 L66.02 308.46 L66.02 308.02 L67.78 308.02 L67.78 307.58 L69.54 307.58 L69.54 306.79 L71.30 306.79 L71.30 306.35 L73.06 306.35 L73.06 306.13 L74.82 306.13 L74.82 305.02 L76.58 305.02 L76.58 302.56 L78.34 302.56 L78.34 301.21 L80.10 301.21 L80.10 299.03 L81.86 299.03 L81.86 295.66 L83.62 295.66 L83.62 291.67 L85.38 291.67 L85.38 287.86 L87.14 287.86 L87.14 283.51 L88.90 283.51 L88.90 282.76 L90.66 282.76 L90.66 282.54 L92.42 282.54 L92.42 285.37 L94.18 285.37 L94.18 289.18 L95.94 289.18 L95.94 294.87 L97.70 294.87 L97.70 300.74 L99.46 300.74 L99.46 304.68 L101.22 304.68 L101.22 308.06 L102.98 308.06 L102.98 309.12 L104.74 309.12 L104.74 309.29 L106.50 309.29 L106.50 309.38 L108.26 309.38 L108.26 309.48 L110.02 309.48 L110.02 309.58 L111.78 309.58 L111.78 309.67 L113.54 309.67 L113.54 309.77 L115.30 309.77 L115.30 309.83 L117.06 309.83 L117.06 309.87 L118.82 309.87 L118.82 309.91 L120.58 309.91 L120.58 309.94 L122.34 309.94 L122.34 309.98 L124.10 309.98 L124.10 310.02 L125.86 310.02 L125.86 310.06 L127.62 310.06 L127.62 310.10 L129.38 310.10 L129.38 310.14 L131.14 310.14 L131.14 310.18 L132.90 310.18 L132.90 310.20 Z" fill="#3d27b0" stroke="#160c5c" stroke-width="0.8"/>
<path d="M48.42 310.20V310.13M50.18 310.20V310.08M51.94 310.20V310.04M53.70 310.20V309.99M55.46 310.20V309.94M57.22 310.20V309.90M58.98 310.20V309.85M60.74 310.20V309.80M62.50 310.20V309.38M64.26 310.20V308.92M66.02 310.20V308.46M67.78 310.20V308.02M69.54 310.20V307.58M71.30 310.20V306.79M73.06 310.20V306.35M74.82 310.20V306.13M76.58 310.20V305.02M78.34 310.20V302.56M80.10 310.20V301.21M81.86 310.20V299.03M83.62 310.20V295.66M85.38 310.20V291.67M87.14 310.20V287.86M88.90 310.20V283.51M90.66 310.20V282.76M92.42 310.20V282.54M94.18 310.20V285.37M95.94 310.20V289.18M97.70 310.20V294.87M99.46 310.20V300.74M101.22 310.20V304.68M102.98 310.20V308.06M104.74 310.20V309.12M106.50 310.20V309.29M108.26 310.20V309.38M110.02 310.20V309.48M111.78 310.20V309.58M113.54 310.20V309.67M115.30 310.20V309.77M117.06 310.20V309.83M118.82 310.20V309.87M120.58 310.20V309.91M122.34 310.20V309.94M124.10 310.20V309.98M125.86 310.20V310.02M127.62 310.20V310.06M129.38 310.20V310.10M131.14 310.20V310.14" fill="none" stroke="#160c5c" stroke-width="0.3" stroke-opacity="0.3"/>
<path d="M44.90 310.20V279.60H132.90V310.20" fill="none" stroke="#888888" stroke-width="1.5" stroke-linejoin="miter"/>
<path d="M44.15 310.20H133.65" fill="none" stroke="#50507d" stroke-width="1.5"/>
<text x="39.40" y="284.40" font-size="12" text-anchor="end">500</text>
<text x="39.40" y="315.00" font-size="12" text-anchor="end">0</text>
<text x="44.40" y="327.40" font-size="12" text-anchor="middle">-5</text>
<text x="88.40" y="327.40" font-size="12" text-anchor="middle">0</text>
<text x="132.40" y="327.40" font-size="12" text-anchor="middle">5</text>
<text x="88.60" y="343.70" font-size="13.5" text-anchor="middle">z-score</text>
<text x="88.90" y="274.40" font-size="13.2" font-weight="bold" text-anchor="middle" style="fill:#000;stroke:#000">Q</text>
<text transform="translate(12.70 295.10) rotate(-90)" font-size="13.4" text-anchor="middle">counts</text>
<path d="M182.30 310.20 L182.30 310.18 L184.06 310.18 L184.06 310.13 L185.82 310.13 L185.82 310.08 L187.58 310.08 L187.58 310.03 L189.34 310.03 L189.34 309.98 L191.10 309.98 L191.10 309.94 L192.86 309.94 L192.86 309.89 L194.62 309.89 L194.62 309.84 L196.38 309.84 L196.38 309.73 L198.14 309.73 L198.14 309.27 L199.90 309.27 L199.90 308.82 L201.66 308.82 L201.66 308.34 L203.42 308.34 L203.42 307.81 L205.18 307.81 L205.18 307.28 L206.94 307.28 L206.94 306.73 L208.70 306.73 L208.70 306.14 L210.46 306.14 L210.46 305.33 L212.22 305.33 L212.22 304.38 L213.98 304.38 L213.98 302.17 L215.74 302.17 L215.74 299.98 L217.50 299.98 L217.50 296.74 L219.26 296.74 L219.26 293.67 L221.02 293.67 L221.02 289.70 L222.78 289.70 L222.78 286.51 L224.54 286.51 L224.54 286.00 L226.30 286.00 L226.30 286.55 L228.06 286.55 L228.06 286.99 L229.82 286.99 L229.82 288.30 L231.58 288.30 L231.58 291.90 L233.34 291.90 L233.34 296.44 L235.10 296.44 L235.10 299.96 L236.86 299.96 L236.86 303.61 L238.62 303.61 L238.62 305.50 L240.38 305.50 L240.38 307.13 L242.14 307.13 L242.14 308.01 L243.90 308.01 L243.90 308.59 L245.66 308.59 L245.66 309.07 L247.42 309.07 L247.42 309.31 L249.18 309.31 L249.18 309.54 L250.94 309.54 L250.94 309.78 L252.70 309.78 L252.70 309.83 L254.46 309.83 L254.46 309.87 L256.22 309.87 L256.22 309.91 L257.98 309.91 L257.98 309.95 L259.74 309.95 L259.74 309.99 L261.50 309.99 L261.50 310.03 L263.26 310.03 L263.26 310.07 L265.02 310.07 L265.02 310.10 L266.78 310.10 L266.78 310.14 L268.54 310.14 L268.54 310.18 L270.30 310.18 L270.30 310.20 Z" fill="#3d27b0" stroke="#160c5c" stroke-width="0.8"/>
<path d="M185.82 310.20V310.13M187.58 310.20V310.08M189.34 310.20V310.03M191.10 310.20V309.98M192.86 310.20V309.94M194.62 310.20V309.89M196.38 310.20V309.84M198.14 310.20V309.73M199.90 310.20V309.27M201.66 310.20V308.82M203.42 310.20V308.34M205.18 310.20V307.81M206.94 310.20V307.28M208.70 310.20V306.73M210.46 310.20V306.14M212.22 310.20V305.33M213.98 310.20V304.38M215.74 310.20V302.17M217.50 310.20V299.98M219.26 310.20V296.74M221.02 310.20V293.67M222.78 310.20V289.70M224.54 310.20V286.51M226.30 310.20V286.00M228.06 310.20V286.55M229.82 310.20V286.99M231.58 310.20V288.30M233.34 310.20V291.90M235.10 310.20V296.44M236.86 310.20V299.96M238.62 310.20V303.61M240.38 310.20V305.50M242.14 310.20V307.13M243.90 310.20V308.01M245.66 310.20V308.59M247.42 310.20V309.07M249.18 310.20V309.31M250.94 310.20V309.54M252.70 310.20V309.78M254.46 310.20V309.83M256.22 310.20V309.87M257.98 310.20V309.91M259.74 310.20V309.95M261.50 310.20V309.99M263.26 310.20V310.03M265.02 310.20V310.07M266.78 310.20V310.10M268.54 310.20V310.14" fill="none" stroke="#160c5c" stroke-width="0.3" stroke-opacity="0.3"/>
<path d="M182.30 310.20V279.60H270.30V310.20" fill="none" stroke="#888888" stroke-width="1.5" stroke-linejoin="miter"/>
<path d="M181.55 310.20H271.05" fill="none" stroke="#50507d" stroke-width="1.5"/>
<text x="176.80" y="284.40" font-size="12" text-anchor="end">500</text>
<text x="176.80" y="315.00" font-size="12" text-anchor="end">0</text>
<text x="181.80" y="327.40" font-size="12" text-anchor="middle">-5</text>
<text x="225.80" y="327.40" font-size="12" text-anchor="middle">0</text>
<text x="269.80" y="327.40" font-size="12" text-anchor="middle">5</text>
<text x="226.00" y="343.70" font-size="13.5" text-anchor="middle">z-score</text>
<text x="226.30" y="274.40" font-size="13.2" font-weight="bold" text-anchor="middle" style="fill:#000;stroke:#000">R</text>
<text transform="translate(150.10 295.10) rotate(-90)" font-size="13.4" text-anchor="middle">counts</text>
<path d="M319.50 310.20 L319.50 310.18 L321.26 310.18 L321.26 310.13 L323.02 310.13 L323.02 310.08 L324.78 310.08 L324.78 310.03 L326.54 310.03 L326.54 309.98 L328.30 309.98 L328.30 309.93 L330.06 309.93 L330.06 309.88 L331.82 309.88 L331.82 309.84 L333.58 309.84 L333.58 309.68 L335.34 309.68 L335.34 309.22 L337.10 309.22 L337.10 308.77 L338.86 308.77 L338.86 308.31 L340.62 308.31 L340.62 307.85 L342.38 307.85 L342.38 307.39 L344.14 307.39 L344.14 306.77 L345.90 306.77 L345.90 306.02 L347.66 306.02 L347.66 305.14 L349.42 305.14 L349.42 303.97 L351.18 303.97 L351.18 302.62 L352.94 302.62 L352.94 301.15 L354.70 301.15 L354.70 298.39 L356.46 298.39 L356.46 295.48 L358.22 295.48 L358.22 289.75 L359.98 289.75 L359.98 288.57 L361.74 288.57 L361.74 283.07 L363.50 283.07 L363.50 284.76 L365.26 284.76 L365.26 284.57 L367.02 284.57 L367.02 286.80 L368.78 286.80 L368.78 290.15 L370.54 290.15 L370.54 294.18 L372.30 294.18 L372.30 299.45 L374.06 299.45 L374.06 303.38 L375.82 303.38 L375.82 305.93 L377.58 305.93 L377.58 307.72 L379.34 307.72 L379.34 308.70 L381.10 308.70 L381.10 309.19 L382.86 309.19 L382.86 309.35 L384.62 309.35 L384.62 309.50 L386.38 309.50 L386.38 309.65 L388.14 309.65 L388.14 309.80 L389.90 309.80 L389.90 309.84 L391.66 309.84 L391.66 309.88 L393.42 309.88 L393.42 309.91 L395.18 309.91 L395.18 309.95 L396.94 309.95 L396.94 309.99 L398.70 309.99 L398.70 310.03 L400.46 310.03 L400.46 310.07 L402.22 310.07 L402.22 310.10 L403.98 310.10 L403.98 310.14 L405.74 310.14 L405.74 310.18 L407.50 310.18 L407.50 310.20 Z" fill="#3d27b0" stroke="#160c5c" stroke-width="0.8"/>
<path d="M323.02 310.20V310.13M324.78 310.20V310.08M326.54 310.20V310.03M328.30 310.20V309.98M330.06 310.20V309.93M331.82 310.20V309.88M333.58 310.20V309.84M335.34 310.20V309.68M337.10 310.20V309.22M338.86 310.20V308.77M340.62 310.20V308.31M342.38 310.20V307.85M344.14 310.20V307.39M345.90 310.20V306.77M347.66 310.20V306.02M349.42 310.20V305.14M351.18 310.20V303.97M352.94 310.20V302.62M354.70 310.20V301.15M356.46 310.20V298.39M358.22 310.20V295.48M359.98 310.20V289.75M361.74 310.20V288.57M363.50 310.20V283.07M365.26 310.20V284.76M367.02 310.20V284.57M368.78 310.20V286.80M370.54 310.20V290.15M372.30 310.20V294.18M374.06 310.20V299.45M375.82 310.20V303.38M377.58 310.20V305.93M379.34 310.20V307.72M381.10 310.20V308.70M382.86 310.20V309.19M384.62 310.20V309.35M386.38 310.20V309.50M388.14 310.20V309.65M389.90 310.20V309.80M391.66 310.20V309.84M393.42 310.20V309.88M395.18 310.20V309.91M396.94 310.20V309.95M398.70 310.20V309.99M400.46 310.20V310.03M402.22 310.20V310.07M403.98 310.20V310.10M405.74 310.20V310.14" fill="none" stroke="#160c5c" stroke-width="0.3" stroke-opacity="0.3"/>
<path d="M319.50 310.20V279.60H407.50V310.20" fill="none" stroke="#888888" stroke-width="1.5" stroke-linejoin="miter"/>
<path d="M318.75 310.20H408.25" fill="none" stroke="#50507d" stroke-width="1.5"/>
<text x="314.00" y="284.40" font-size="12" text-anchor="end">500</text>
<text x="314.00" y="315.00" font-size="12" text-anchor="end">0</text>
<text x="319.00" y="327.40" font-size="12" text-anchor="middle">-5</text>
<text x="363.00" y="327.40" font-size="12" text-anchor="middle">0</text>
<text x="407.00" y="327.40" font-size="12" text-anchor="middle">5</text>
<text x="363.20" y="343.70" font-size="13.5" text-anchor="middle">z-score</text>
<text x="363.50" y="274.40" font-size="13.2" font-weight="bold" text-anchor="middle" style="fill:#000;stroke:#000">S</text>
<text transform="translate(287.30 295.10) rotate(-90)" font-size="13.4" text-anchor="middle">counts</text>
<path d="M456.80 310.20 L456.80 310.18 L458.56 310.18 L458.56 310.13 L460.32 310.13 L460.32 310.08 L462.08 310.08 L462.08 310.03 L463.84 310.03 L463.84 309.98 L465.60 309.98 L465.60 309.93 L467.36 309.93 L467.36 309.88 L469.12 309.88 L469.12 309.83 L470.88 309.83 L470.88 309.65 L472.64 309.65 L472.64 309.30 L474.40 309.30 L474.40 308.94 L476.16 308.94 L476.16 308.46 L477.92 308.46 L477.92 307.89 L479.68 307.89 L479.68 307.32 L481.44 307.32 L481.44 306.75 L483.20 306.75 L483.20 306.17 L484.96 306.17 L484.96 305.46 L486.72 305.46 L486.72 304.60 L488.48 304.60 L488.48 303.43 L490.24 303.43 L490.24 301.60 L492.00 301.60 L492.00 299.03 L493.76 299.03 L493.76 295.72 L495.52 295.72 L495.52 290.10 L497.28 290.10 L497.28 286.45 L499.04 286.45 L499.04 284.08 L500.80 284.08 L500.80 283.00 L502.56 283.00 L502.56 284.25 L504.32 284.25 L504.32 287.40 L506.08 287.40 L506.08 290.92 L507.84 290.92 L507.84 295.66 L509.60 295.66 L509.60 300.20 L511.36 300.20 L511.36 304.60 L513.12 304.60 L513.12 307.17 L514.88 307.17 L514.88 308.34 L516.64 308.34 L516.64 309.03 L518.40 309.03 L518.40 309.30 L520.16 309.30 L520.16 309.43 L521.92 309.43 L521.92 309.56 L523.68 309.56 L523.68 309.69 L525.44 309.69 L525.44 309.81 L527.20 309.81 L527.20 309.84 L528.96 309.84 L528.96 309.88 L530.72 309.88 L530.72 309.92 L532.48 309.92 L532.48 309.96 L534.24 309.96 L534.24 309.99 L536.00 309.99 L536.00 310.03 L537.76 310.03 L537.76 310.07 L539.52 310.07 L539.52 310.11 L541.28 310.11 L541.28 310.14 L543.04 310.14 L543.04 310.18 L544.80 310.18 L544.80 310.20 Z" fill="#3d27b0" stroke="#160c5c" stroke-width="0.8"/>
<path d="M460.32 310.20V310.13M462.08 310.20V310.08M463.84 310.20V310.03M465.60 310.20V309.98M467.36 310.20V309.93M469.12 310.20V309.88M470.88 310.20V309.83M472.64 310.20V309.65M474.40 310.20V309.30M476.16 310.20V308.94M477.92 310.20V308.46M479.68 310.20V307.89M481.44 310.20V307.32M483.20 310.20V306.75M484.96 310.20V306.17M486.72 310.20V305.46M488.48 310.20V304.60M490.24 310.20V303.43M492.00 310.20V301.60M493.76 310.20V299.03M495.52 310.20V295.72M497.28 310.20V290.10M499.04 310.20V286.45M500.80 310.20V284.08M502.56 310.20V283.00M504.32 310.20V284.25M506.08 310.20V287.40M507.84 310.20V290.92M509.60 310.20V295.66M511.36 310.20V300.20M513.12 310.20V304.60M514.88 310.20V307.17M516.64 310.20V308.34M518.40 310.20V309.03M520.16 310.20V309.30M521.92 310.20V309.43M523.68 310.20V309.56M525.44 310.20V309.69M527.20 310.20V309.81M528.96 310.20V309.84M530.72 310.20V309.88M532.48 310.20V309.92M534.24 310.20V309.96M536.00 310.20V309.99M537.76 310.20V310.03M539.52 310.20V310.07M541.28 310.20V310.11M543.04 310.20V310.14" fill="none" stroke="#160c5c" stroke-width="0.3" stroke-opacity="0.3"/>
<path d="M456.80 310.20V279.60H544.80V310.20" fill="none" stroke="#888888" stroke-width="1.5" stroke-linejoin="miter"/>
<path d="M456.05 310.20H545.55" fill="none" stroke="#50507d" stroke-width="1.5"/>
<text x="451.30" y="284.40" font-size="12" text-anchor="end">500</text>
<text x="451.30" y="315.00" font-size="12" text-anchor="end">0</text>
<text x="456.30" y="327.40" font-size="12" text-anchor="middle">-5</text>
<text x="500.30" y="327.40" font-size="12" text-anchor="middle">0</text>
<text x="544.30" y="327.40" font-size="12" text-anchor="middle">5</text>
<text x="500.50" y="343.70" font-size="13.5" text-anchor="middle">z-score</text>
<text x="500.80" y="274.40" font-size="13.2" font-weight="bold" text-anchor="middle" style="fill:#000;stroke:#000">T</text>
<text transform="translate(424.60 295.10) rotate(-90)" font-size="13.4" text-anchor="middle">counts</text>
<path d="M44.90 396.60 L44.90 396.59 L46.66 396.59 L46.66 396.58 L48.42 396.58 L48.42 396.57 L50.18 396.57 L50.18 396.56 L51.94 396.56 L51.94 396.55 L53.70 396.55 L53.70 396.54 L55.46 396.54 L55.46 396.52 L57.22 396.52 L57.22 396.51 L58.98 396.51 L58.98 396.50 L60.74 396.50 L60.74 396.18 L62.50 396.18 L62.50 395.82 L64.26 395.82 L64.26 395.45 L66.02 395.45 L66.02 394.79 L67.78 394.79 L67.78 394.13 L69.54 394.13 L69.54 393.47 L71.30 393.47 L71.30 392.81 L73.06 392.81 L73.06 392.09 L74.82 392.09 L74.82 391.33 L76.58 391.33 L76.58 390.21 L78.34 390.21 L78.34 388.06 L80.10 388.06 L80.10 385.19 L81.86 385.19 L81.86 382.85 L83.62 382.85 L83.62 377.67 L85.38 377.67 L85.38 374.48 L87.14 374.48 L87.14 371.97 L88.90 371.97 L88.90 369.91 L90.66 369.91 L90.66 369.86 L92.42 369.86 L92.42 372.10 L94.18 372.10 L94.18 376.24 L95.94 376.24 L95.94 382.12 L97.70 382.12 L97.70 387.66 L99.46 387.66 L99.46 390.76 L101.22 390.76 L101.22 393.13 L102.98 393.13 L102.98 395.24 L104.74 395.24 L104.74 396.03 L106.50 396.03 L106.50 396.12 L108.26 396.12 L108.26 396.21 L110.02 396.21 L110.02 396.30 L111.78 396.30 L111.78 396.38 L113.54 396.38 L113.54 396.47 L115.30 396.47 L115.30 396.51 L117.06 396.51 L117.06 396.52 L118.82 396.52 L118.82 396.53 L120.58 396.53 L120.58 396.54 L122.34 396.54 L122.34 396.55 L124.10 396.55 L124.10 396.56 L125.86 396.56 L125.86 396.57 L127.62 396.57 L127.62 396.58 L129.38 396.58 L129.38 396.59 L131.14 396.59 L131.14 396.60 L132.90 396.60 L132.90 396.60 Z" fill="#3d27b0" stroke="#160c5c" stroke-width="0.8"/>
<path d="M53.70 396.60V396.55M55.46 396.60V396.54M57.22 396.60V396.52M58.98 396.60V396.51M60.74 396.60V396.50M62.50 396.60V396.18M64.26 396.60V395.82M66.02 396.60V395.45M67.78 396.60V394.79M69.54 396.60V394.13M71.30 396.60V393.47M73.06 396.60V392.81M74.82 396.60V392.09M76.58 396.60V391.33M78.34 396.60V390.21M80.10 396.60V388.06M81.86 396.60V385.19M83.62 396.60V382.85M85.38 396.60V377.67M87.14 396.60V374.48M88.90 396.60V371.97M90.66 396.60V369.91M92.42 396.60V369.86M94.18 396.60V372.10M95.94 396.60V376.24M97.70 396.60V382.12M99.46 396.60V387.66M101.22 396.60V390.76M102.98 396.60V393.13M104.74 396.60V395.24M106.50 396.60V396.03M108.26 396.60V396.12M110.02 396.60V396.21M111.78 396.60V396.30M113.54 396.60V396.38M115.30 396.60V396.47M117.06 396.60V396.51M118.82 396.60V396.52M120.58 396.60V396.53M122.34 396.60V396.54M124.10 396.60V396.55" fill="none" stroke="#160c5c" stroke-width="0.3" stroke-opacity="0.3"/>
<path d="M44.90 396.60V366.00H132.90V396.60" fill="none" stroke="#888888" stroke-width="1.5" stroke-linejoin="miter"/>
<path d="M44.15 396.60H133.65" fill="none" stroke="#50507d" stroke-width="1.5"/>
<text x="39.40" y="370.80" font-size="12" text-anchor="end">500</text>
<text x="39.40" y="401.40" font-size="12" text-anchor="end">0</text>
<text x="44.40" y="413.80" font-size="12" text-anchor="middle">-5</text>
<text x="88.40" y="413.80" font-size="12" text-anchor="middle">0</text>
<text x="132.40" y="413.80" font-size="12" text-anchor="middle">5</text>
<text x="88.60" y="430.10" font-size="13.5" text-anchor="middle">z-score</text>
<text x="88.90" y="360.80" font-size="13.2" font-weight="bold" text-anchor="middle" style="fill:#000;stroke:#000">V</text>
<text transform="translate(12.70 381.50) rotate(-90)" font-size="13.4" text-anchor="middle">counts</text>
<path d="M182.30 396.60 L182.30 396.59 L184.06 396.59 L184.06 396.58 L185.82 396.58 L185.82 396.57 L187.58 396.57 L187.58 396.56 L189.34 396.56 L189.34 396.55 L191.10 396.55 L191.10 396.53 L192.86 396.53 L192.86 396.52 L194.62 396.52 L194.62 396.51 L196.38 396.51 L196.38 396.45 L198.14 396.45 L198.14 396.10 L199.90 396.10 L199.90 395.74 L201.66 395.74 L201.66 395.34 L203.42 395.34 L203.42 394.81 L205.18 394.81 L205.18 394.28 L206.94 394.28 L206.94 393.59 L208.70 393.59 L208.70 392.71 L210.46 392.71 L210.46 391.61 L212.22 391.61 L212.22 390.43 L213.98 390.43 L213.98 389.26 L215.74 389.26 L215.74 387.88 L217.50 387.88 L217.50 385.87 L219.26 385.87 L219.26 382.08 L221.02 382.08 L221.02 377.10 L222.78 377.10 L222.78 374.68 L224.54 374.68 L224.54 371.63 L226.30 371.63 L226.30 370.12 L228.06 370.12 L228.06 371.44 L229.82 371.44 L229.82 373.67 L231.58 373.67 L231.58 378.36 L233.34 378.36 L233.34 382.80 L235.10 382.80 L235.10 387.70 L236.86 387.70 L236.86 390.82 L238.62 390.82 L238.62 393.17 L240.38 393.17 L240.38 395.16 L242.14 395.16 L242.14 396.06 L243.90 396.06 L243.90 396.32 L245.66 396.32 L245.66 396.36 L247.42 396.36 L247.42 396.41 L249.18 396.41 L249.18 396.45 L250.94 396.45 L250.94 396.50 L252.70 396.50 L252.70 396.51 L254.46 396.51 L254.46 396.52 L256.22 396.52 L256.22 396.53 L257.98 396.53 L257.98 396.54 L259.74 396.54 L259.74 396.55 L261.50 396.55 L261.50 396.56 L263.26 396.56 L263.26 396.57 L265.02 396.57 L265.02 396.58 L266.78 396.58 L266.78 396.59 L268.54 396.59 L268.54 396.60 L270.30 396.60 L270.30 396.60 Z" fill="#3d27b0" stroke="#160c5c" stroke-width="0.8"/>
<path d="M191.10 396.60V396.55M192.86 396.60V396.53M194.62 396.60V396.52M196.38 396.60V396.51M198.14 396.60V396.45M199.90 396.60V396.10M201.66 396.60V395.74M203.42 396.60V395.34M205.18 396.60V394.81M206.94 396.60V394.28M208.70 396.60V393.59M210.46 396.60V392.71M212.22 396.60V391.61M213.98 396.60V390.43M215.74 396.60V389.26M217.50 396.60V387.88M219.26 396.60V385.87M221.02 396.60V382.08M222.78 396.60V377.10M224.54 396.60V374.68M226.30 396.60V371.63M228.06 396.60V370.12M229.82 396.60V371.44M231.58 396.60V373.67M233.34 396.60V378.36M235.10 396.60V382.80M236.86 396.60V387.70M238.62 396.60V390.82M240.38 396.60V393.17M242.14 396.60V395.16M243.90 396.60V396.06M245.66 396.60V396.32M247.42 396.60V396.36M249.18 396.60V396.41M250.94 396.60V396.45M252.70 396.60V396.50M254.46 396.60V396.51M256.22 396.60V396.52M257.98 396.60V396.53M259.74 396.60V396.54M261.50 396.60V396.55" fill="none" stroke="#160c5c" stroke-width="0.3" stroke-opacity="0.3"/>
<path d="M182.30 396.60V366.00H270.30V396.60" fill="none" stroke="#888888" stroke-width="1.5" stroke-linejoin="miter"/>
<path d="M181.55 396.60H271.05" fill="none" stroke="#50507d" stroke-width="1.5"/>
<text x="176.80" y="370.80" font-size="12" text-anchor="end">500</text>
<text x="176.80" y="401.40" font-size="12" text-anchor="end">0</text>
<text x="181.80" y="413.80" font-size="12" text-anchor="middle">-5</text>
<text x="225.80" y="413.80" font-size="12" text-anchor="middle">0</text>
<text x="269.80" y="413.80" font-size="12" text-anchor="middle">5</text>
<text x="226.00" y="430.10" font-size="13.5" text-anchor="middle">z-score</text>
<text x="226.30" y="360.80" font-size="13.2" font-weight="bold" text-anchor="middle" style="fill:#000;stroke:#000">W</text>
<text transform="translate(150.10 381.50) rotate(-90)" font-size="13.4" text-anchor="middle">counts</text>
<path d="M319.50 396.60 L319.50 396.59 L321.26 396.59 L321.26 396.58 L323.02 396.58 L323.02 396.57 L324.78 396.57 L324.78 396.56 L326.54 396.56 L326.54 396.55 L328.30 396.55 L328.30 396.53 L330.06 396.53 L330.06 396.52 L331.82 396.52 L331.82 396.51 L333.58 396.51 L333.58 396.41 L335.34 396.41 L335.34 396.06 L337.10 396.06 L337.10 395.70 L338.86 395.70 L338.86 395.31 L340.62 395.31 L340.62 394.85 L342.38 394.85 L342.38 394.39 L344.14 394.39 L344.14 393.45 L345.90 393.45 L345.90 392.16 L347.66 392.16 L347.66 391.23 L349.42 391.23 L349.42 390.35 L351.18 390.35 L351.18 389.43 L352.94 389.43 L352.94 387.23 L354.70 387.23 L354.70 383.37 L356.46 383.37 L356.46 380.15 L358.22 380.15 L358.22 376.67 L359.98 376.67 L359.98 373.96 L361.74 373.96 L361.74 368.68 L363.50 368.68 L363.50 371.26 L365.26 371.26 L365.26 374.79 L367.02 374.79 L367.02 372.60 L368.78 372.60 L368.78 378.48 L370.54 378.48 L370.54 383.76 L372.30 383.76 L372.30 387.36 L374.06 387.36 L374.06 390.59 L375.82 390.59 L375.82 392.93 L377.58 392.93 L377.58 394.96 L379.34 394.96 L379.34 395.93 L381.10 395.93 L381.10 396.24 L382.86 396.24 L382.86 396.30 L384.62 396.30 L384.62 396.37 L386.38 396.37 L386.38 396.43 L388.14 396.43 L388.14 396.50 L389.90 396.50 L389.90 396.51 L391.66 396.51 L391.66 396.52 L393.42 396.52 L393.42 396.53 L395.18 396.53 L395.18 396.54 L396.94 396.54 L396.94 396.55 L398.70 396.55 L398.70 396.56 L400.46 396.56 L400.46 396.57 L402.22 396.57 L402.22 396.58 L403.98 396.58 L403.98 396.59 L405.74 396.59 L405.74 396.60 L407.50 396.60 L407.50 396.60 Z" fill="#3d27b0" stroke="#160c5c" stroke-width="0.8"/>
<path d="M328.30 396.60V396.55M330.06 396.60V396.53M331.82 396.60V396.52M333.58 396.60V396.51M335.34 396.60V396.41M337.10 396.60V396.06M338.86 396.60V395.70M340.62 396.60V395.31M342.38 396.60V394.85M344.14 396.60V394.39M345.90 396.60V393.45M347.66 396.60V392.16M349.42 396.60V391.23M351.18 396.60V390.35M352.94 396.60V389.43M354.70 396.60V387.23M356.46 396.60V383.37M358.22 396.60V380.15M359.98 396.60V376.67M361.74 396.60V373.96M363.50 396.60V368.68M365.26 396.60V371.26M367.02 396.60V374.79M368.78 396.60V372.60M370.54 396.60V378.48M372.30 396.60V383.76M374.06 396.60V387.36M375.82 396.60V390.59M377.58 396.60V392.93M379.34 396.60V394.96M381.10 396.60V395.93M382.86 396.60V396.24M384.62 396.60V396.30M386.38 396.60V396.37M388.14 396.60V396.43M389.90 396.60V396.50M391.66 396.60V396.51M393.42 396.60V396.52M395.18 396.60V396.53M396.94 396.60V396.54M398.70 396.60V396.55" fill="none" stroke="#160c5c" stroke-width="0.3" stroke-opacity="0.3"/>
<path d="M319.50 396.60V366.00H407.50V396.60" fill="none" stroke="#888888" stroke-width="1.5" stroke-linejoin="miter"/>
<path d="M318.75 396.60H408.25" fill="none" stroke="#50507d" stroke-width="1.5"/>
<text x="314.00" y="370.80" font-size="12" text-anchor="end">500</text>
<text x="314.00" y="401.40" font-size="12" text-anchor="end">0</text>
<text x="319.00" y="413.80" font-size="12" text-anchor="middle">-5</text>
<text x="363.00" y="413.80" font-size="12" text-anchor="middle">0</text>
<text x="407.00" y="413.80" font-size="12" text-anchor="middle">5</text>
<text x="363.20" y="430.10" font-size="13.5" text-anchor="middle">z-score</text>
<text x="363.50" y="360.80" font-size="13.2" font-weight="bold" text-anchor="middle" style="fill:#000;stroke:#000">Y</text>
<text transform="translate(287.30 381.50) rotate(-90)" font-size="13.4" text-anchor="middle">counts</text>
</svg></body></html>
